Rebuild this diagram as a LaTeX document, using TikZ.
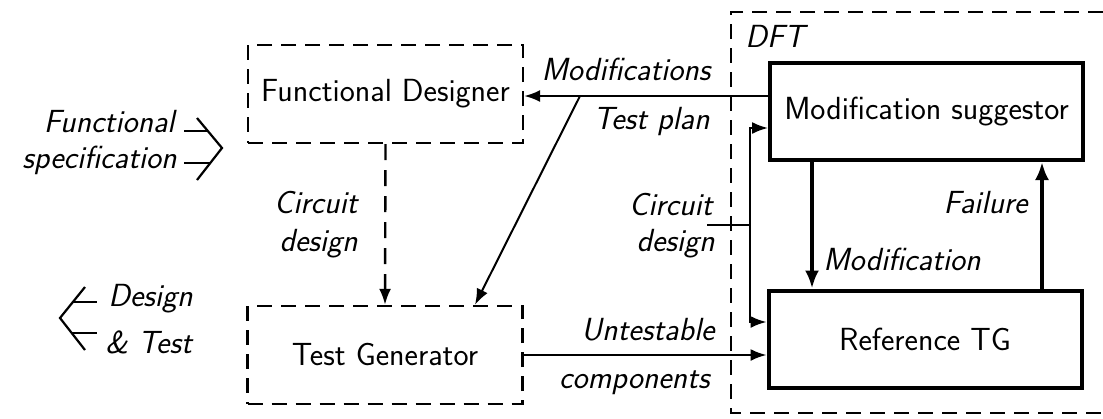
\documentclass[tikz,border=0pt]{standalone}
\usepackage{fontspec}
\usetikzlibrary{arrows.meta,calc}
\begin{document}
\begin{tikzpicture}[x=0.5pt,y=-0.5pt,
  every node/.style={font=\sffamily\fontsize{16}{19}\selectfont\addfontfeature{FakeBold=0.8}},
  lbl/.style={font=\sffamily\itshape\fontsize{16}{19}\selectfont\addfontfeature{FakeBold=1}, inner sep=0pt},
  dbox/.style={draw, line width=1.2pt, dash pattern=on 7.5pt off 4.5pt, inner sep=0pt, minimum width=137.5pt, minimum height=49pt},
  sbox/.style={draw, line width=2pt, inner sep=0pt, minimum width=156.5pt, minimum height=48.5pt},
  arr/.style={line width=1pt, -{Latex[length=8pt,width=6pt]}},
  tarr/.style={line width=2pt, -{Latex[length=9pt,width=7pt]}},
  dashedarr/.style={line width=1.2pt, dash pattern=on 8pt off 5pt, -{Latex[length=8pt,width=6pt]}},
  brk/.style={line width=1.1pt}
]
\useasboundingbox (0,0) rectangle (1103,418);

% boxes
\node[dbox] (fd) at (385.5,94) {Functional Designer};
\node[dbox] (tg) at (385,355) {Test Generator};
\node[sbox] (ms) at (926.5,111.5) {Modification suggestor};
\node[sbox] (rtg) at (925,339) {Reference TG};

% DFT region
\draw[line width=1.2pt, dash pattern=on 7.5pt off 4.5pt] (1103,12) -| (731,413) -- (1103,413);
\node[lbl, anchor=base west] (dft) at (745,47) {DFT};

% Modifications and test plan
\coordinate (j1) at (580,96);
\draw[arr] (ms.west |- j1) -- (fd.east |- j1);
\node[lbl, anchor=base] (lmod) at (626,80) {Modifications};
\draw[arr] (j1) -- ($(tg.north)+(90,0)$);
\node[lbl, anchor=base east] (ltp) at (710,129) {Test plan};

% circuit design (dashed)
\draw[dashedarr] (fd.south) -- (tg.north);
\node[lbl, anchor=base east] (lc1) at (358,213) {Circuit};
\node[lbl, anchor=base east] (ld1) at (358,251) {design};

% circuit design into DFT
\coordinate (cd0) at (707,225);
\coordinate (cd1) at (750,225);
\draw[arr] (cd0) -- (cd1) |- (ms.west |- 0,128);
\draw[arr] (cd1) |- (rtg.west |- 0,322);
\node[lbl, anchor=base east] (lc2) at (713,215) {Circuit};
\node[lbl, anchor=base east] (ld2) at (715,251) {design};

% untestable components
\draw[arr] (tg.east |- 0,355) -- (rtg.west |- 0,355);
\node[lbl, anchor=base east] (lu) at (715,340) {Untestable};
\node[lbl, anchor=base east] (lcomp) at (710,388) {components};

% modification / failure
\draw[tarr] (ms.south -| 812,0) -- (rtg.north -| 812,0);
\node[lbl, anchor=base west] (lm2) at (823,270) {Modification};
\draw[tarr] (rtg.north -| 1042,0) -- (ms.south -| 1042,0);
\node[lbl, anchor=base east] (lf) at (1028,213) {Failure};

% functional specification input
\node[lbl, anchor=base east] (lfs1) at (175,132) {Functional};
\node[lbl, anchor=base east] (lfs2) at (177,168) {specification};
\draw[brk] (197,118) -- (222,148) -- (197,180);
\draw[brk] (184,131) -- (208,131);
\draw[brk] (184,163) -- (210,163);

% design & test output
\node[lbl, anchor=base west] (ldt1) at (108,306) {Design};
\node[lbl, anchor=base west] (ldt2) at (105,353) {\& Test};
\draw[brk] (85,287) -- (60,318) -- (85,350);
\draw[brk] (73,302) -- (97,302);
\draw[brk] (72,333) -- (97,333);
\end{tikzpicture}
\end{document}
